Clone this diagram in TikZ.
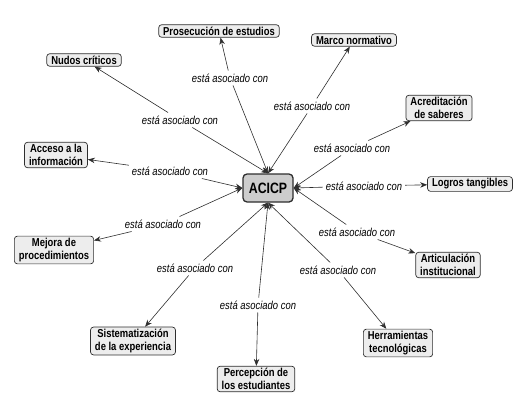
\documentclass[tikz,border=0pt]{standalone}
\usepackage{fontspec}
\newfontfamily\cmapfont[FakeStretch=0.82]{Liberation Sans}
\usepackage{tikz}
\usetikzlibrary{arrows.meta}
\definecolor{conceptfill}{HTML}{EDEDED}
\definecolor{mainfill}{HTML}{CDCDCD}
\definecolor{edgegray}{HTML}{2E2E2E}
\tikzset{
    concept/.style={draw=edgegray, fill=conceptfill, rounded corners=3pt, line width=0.7pt, align=center, font=\cmapfont\bfseries\fontsize{11.5}{13}\selectfont, inner xsep=4.5pt, inner ysep=2pt},
    mainconcept/.style={draw=edgegray, fill=mainfill, rounded corners=4pt, line width=1.3pt, font=\cmapfont\bfseries\fontsize{15}{16}\selectfont, minimum width=50pt, minimum height=28pt},
    linkword/.style={font=\cmapfont\itshape\fontsize{11.5}{12}\selectfont, inner sep=3pt},
    link/.style={draw=edgegray, line width=0.6pt, -{Stealth[length=7pt, width=5.5pt]}}
}

\begin{document}
\begin{tikzpicture}[x=1pt, y=-1pt]
  \useasboundingbox (0,0) rectangle (529,415);

  % Central concept
  \node[mainconcept] (acicp) at (268,188) {ACICP};

  % Associated concepts
  \node[concept] (prosecucion) at (219,31) {Prosecución de estudios};
  \node[concept] (marco) at (354,40) {Marco normativo};
  \node[concept] (nudos) at (84,60) {Nudos críticos};
  \node[concept] (acreditacion) at (439,108) {Acreditación\\de saberes};
  \node[concept] (acceso) at (56,155) {Acceso a la\\información};
  \node[concept] (logros) at (470,184) {Logros tangibles};
  \node[concept] (mejora) at (54,250) {Mejora de\\procedimientos};
  \node[concept] (articulacion) at (448,265) {Articulación\\institucional};
  \node[concept] (sistematizacion) at (133,341) {Sistematización\\de la experiencia};
  \node[concept] (herramientas) at (398,343) {Herramientas\\tecnológicas};
  \node[concept] (percepcion) at (256,379) {Percepción de\\los estudiantes};

  % Linking phrases
  \node[linkword] (lk_prosecucion) at (230,78) {está asociado con};
  \node[linkword] (lk_marco) at (312,106) {está asociado con};
  \node[linkword] (lk_nudos) at (180,120) {está asociado con};
  \node[linkword] (lk_acreditacion) at (352,148) {está asociado con};
  \node[linkword] (lk_acceso) at (170,171) {está asociado con};
  \node[linkword] (lk_logros) at (364,186) {está asociado con};
  \node[linkword] (lk_mejora) at (163,224) {está asociado con};
  \node[linkword] (lk_articulacion) at (357,232) {está asociado con};
  \node[linkword] (lk_sistematizacion) at (195,268) {está asociado con};
  \node[linkword] (lk_herramientas) at (338,270) {está asociado con};
  \node[linkword] (lk_percepcion) at (258,305) {está asociado con};

  % Links into ACICP
  \draw[link] (lk_prosecucion) -- (acicp.north);
  \draw[link] (lk_marco) -- (acicp.north);
  \draw[link] (lk_nudos) -- (acicp.north);
  \draw[link] (lk_acceso) -- (acicp.west);
  \draw[link] (lk_mejora) -- (acicp.west);
  \draw[link] (lk_acreditacion) -- (acicp.east);
  \draw[link] (lk_logros) -- (acicp.east);
  \draw[link] (lk_articulacion) -- (acicp.east);
  \draw[link] (lk_sistematizacion) -- (acicp.south);
  \draw[link] (lk_percepcion) -- (acicp.south);
  \draw[link] (lk_herramientas) -- (acicp.south);

  % Links out to each concept
  \draw[link] (lk_prosecucion) -- (prosecucion);
  \draw[link] (lk_marco) -- (marco);
  \draw[link] (lk_nudos) -- (nudos);
  \draw[link] (lk_acreditacion) -- (acreditacion);
  \draw[link] (lk_acceso) -- (acceso);
  \draw[link] (lk_logros) -- (logros);
  \draw[link] (lk_mejora) -- (mejora);
  \draw[link] (lk_articulacion) -- (articulacion);
  \draw[link] (lk_sistematizacion) -- (sistematizacion);
  \draw[link] (lk_herramientas) -- (herramientas);
  \draw[link] (lk_percepcion) -- (percepcion);

\end{tikzpicture}
\end{document}
